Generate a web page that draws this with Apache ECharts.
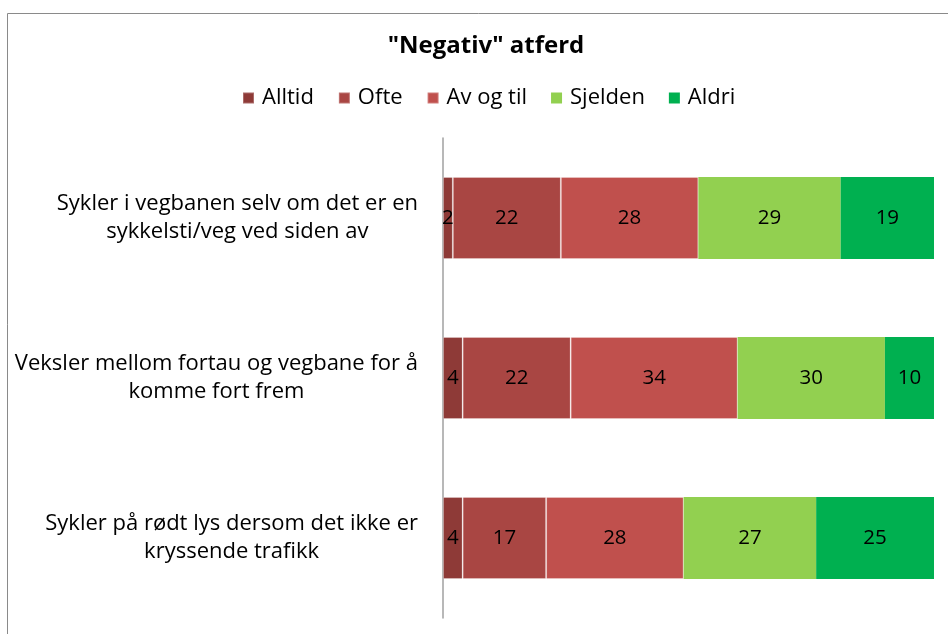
<!DOCTYPE html>
<html>
<head>
<meta charset="utf-8">
<script src="https://cdn.jsdelivr.net/npm/echarts@6/dist/echarts.min.js"></script>
<style>
  html, body { margin: 0; padding: 0; background: #fff; }
  #chart { width: 948px; height: 634px; }
</style>
</head>
<body>
<div id="chart"></div>
<script>
const categories = [
  'Sykler i vegbanen selv om det er en\nsykkelsti/veg ved siden av',
  'Veksler mellom fortau og vegbane for å\nkomme fort frem',
  'Sykler på rødt lys dersom det ikke er\nkryssende trafikk'
]
const seriesNames = ['Alltid', 'Ofte', 'Av og til', 'Sjelden', 'Aldri']
const alltid = [2, 4, 4]
const ofte = [22, 22, 17]
const avOgTil = [28, 34, 28]
const sjelden = [29, 30, 27]
const aldri = [19, 10, 25]
const colors = ['#8E3A37', '#A94643', '#C0504D', '#92D050', '#00B050']

const chart = echarts.init(document.getElementById('chart'))
const font = '"Open Sans", Lato, sans-serif'
const fs = 22

function bar(name, values, i) {
  return {
    name: name,
    type: 'bar',
    stack: 'total',
    data: values,
    barWidth: 82,
    clip: true,
    itemStyle: {
      color: colors[i],
      borderColor: i < 3 ? 'rgba(255,255,255,0.25)' : colors[i],
      borderWidth: i < 3 ? 1 : 0
    },
    label: {
      show: true,
      position: 'inside',
      color: '#000',
      fontSize: 20.5,
      fontFamily: font
    }
  }
}

chart.setOption({
  animation: false,
  graphic: [{
    type: 'rect',
    shape: { x: 7.5, y: 13.5, width: 980, height: 700 },
    style: { fill: 'none', stroke: '#8a8a8a', lineWidth: 1 },
    silent: true
  }],
  title: {
    text: '"Negativ" atferd',
    left: 481,
    top: 29,
    textAlign: 'center',
    textStyle: { fontSize: 24, fontWeight: 'bold', color: '#000', fontFamily: font }
  },
  legend: {
    data: seriesNames,
    left: 237,
    top: 82,
    icon: 'rect',
    itemWidth: 11,
    itemHeight: 11,
    itemGap: 24,
    textStyle: { fontSize: fs, color: '#000', fontFamily: font, padding: [0, 0, 0, 3] }
  },
  grid: { left: 443, right: 14, top: 138, bottom: 16, containLabel: false },
  xAxis: {
    type: 'value',
    min: 0,
    max: 100,
    show: false
  },
  yAxis: {
    type: 'category',
    data: categories,
    inverse: true,
    axisLine: { show: true, lineStyle: { color: '#a0a0a0', width: 1.5 } },
    axisTick: { show: false },
    axisLabel: {
      margin: 25,
      align: 'right',
      fontSize: fs,
      fontFamily: font,
      color: '#000',
      lineHeight: 28,
      formatter: function (v) {
        return v.split('\n').map(function (s) { return '{c|' + s + '}' }).join('\n')
      },
      rich: {
        c: { align: 'center', fontSize: fs, fontFamily: font, color: '#000', lineHeight: 28 }
      }
    }
  },
  series: [
    bar('Alltid', alltid, 0),
    bar('Ofte', ofte, 1),
    bar('Av og til', avOgTil, 2),
    bar('Sjelden', sjelden, 3),
    bar('Aldri', aldri, 4)
  ]
})
</script>
</body>
</html>
